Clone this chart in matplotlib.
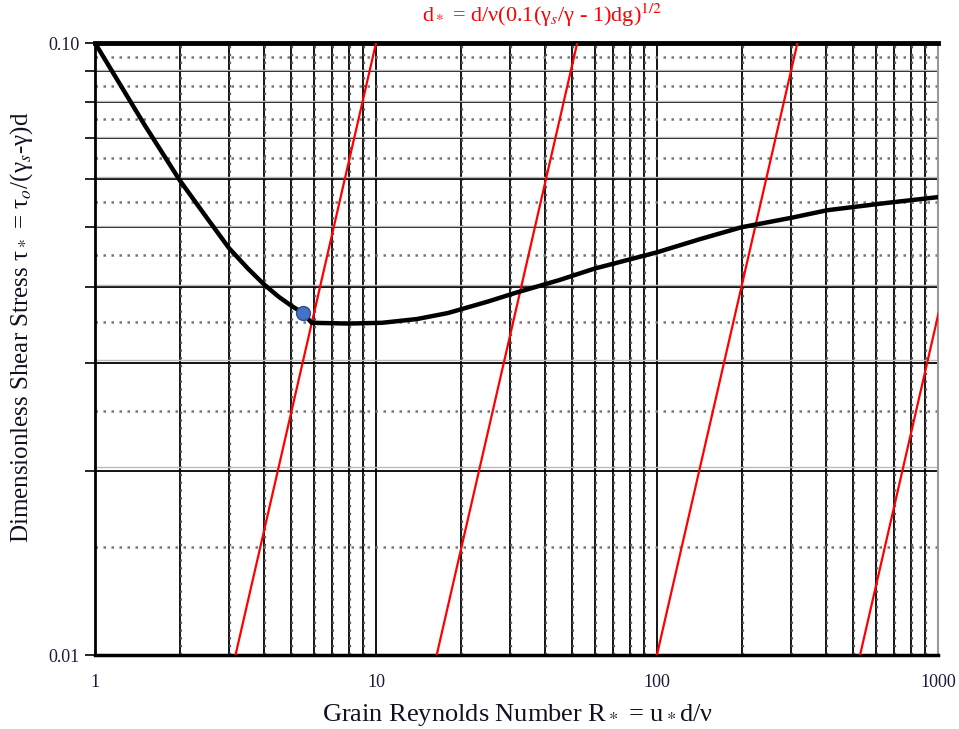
import numpy as np
import matplotlib.pyplot as plt
from matplotlib.ticker import NullFormatter

plt.rcParams['font.family'] = ['Liberation Serif', 'DejaVu Serif']
plt.rcParams['mathtext.fontset'] = 'stix'

# Shields curve
r_star = [1, 1.5, 2, 2.5, 3, 3.5, 4, 4.5, 5, 5.5, 5.9, 8, 10.5, 14, 18, 25, 31, 45, 60, 100, 142, 200, 300, 403, 659, 1000]
tau_star = [0.1, 0.0735, 0.0597, 0.0518, 0.0462, 0.0428, 0.0403, 0.0385, 0.0372, 0.0362, 0.0349, 0.0348, 0.0349,
            0.0354, 0.0362, 0.0378, 0.039, 0.041, 0.0428, 0.0455, 0.0478, 0.050, 0.0518, 0.0533, 0.0548, 0.056]

# d* constant lines (slope 2 in log-log)
d_star = [10, 52, 316, 1670]
tau_lines = [0.01, 0.1]

# highlighted point
pt_r = [5.5]
pt_tau = [0.0362]

x_major = [1, 10, 100, 1000]
x_labels = ['1', '10', '100', '1000']
y_major = [0.01, 0.1]
y_labels = ['0.01', '0.10']

fig = plt.figure(figsize=(9.59, 7.29), dpi=100)
ax = fig.add_axes([0.0991, 0.1015, 0.8790, 0.8395])
ax.set_xscale('log')
ax.set_yscale('log')
ax.set_xlim(1, 1000)
ax.set_ylim(0.01, 0.1)

# grid lines
for dec in [1, 10, 100]:
    for k in range(2, 10):
        ax.axvline(dec * k, color='black', lw=1.3, zorder=1)
        ax.axvline(dec * k * 1.008, color='#555555', lw=1.6, ls=(0, (1, 2.5)), zorder=1)
for dec in [10, 100]:
    ax.axvline(dec, color='black', lw=1.3, zorder=1)
for k in range(2, 10):
    ax.axhline(k / 100, color='black', lw=1.3, zorder=1)
    ax.axhline(k / 100 + 0.0003, color='#bbbbbb', lw=1.0, zorder=1)
for k in range(1, 10):
    ax.axhline((k + 0.5) / 100, color='#777777', lw=1.8, ls=(0, (1, 2.2)), zorder=1)

# red lines
for d in d_star:
    r = [d * np.sqrt(t / 0.1) for t in tau_lines]
    ax.plot(r, tau_lines, color='red', lw=1.6, zorder=3)

ax.plot(r_star, tau_star, color='black', lw=3.2, solid_joinstyle='round', solid_capstyle='round', zorder=4)
ax.plot(pt_r, pt_tau, 'o', ms=10, color='#4472C4', mec='#2F528F', mew=1, zorder=5)

ax.set_xticks(x_major)
ax.set_xticklabels(x_labels)
ax.set_yticks(y_major)
ax.set_yticklabels(y_labels)
ax.set_yticks([k / 100 for k in range(2, 10)], minor=True)
ax.yaxis.set_minor_formatter(NullFormatter())
ax.set_xticks([], minor=True)
ax.tick_params(axis='x', which='both', length=0, pad=14, labelsize=13, labelcolor='#1a1a3a')
ax.tick_params(axis='y', which='major', length=7, width=1.2, pad=4, labelsize=13, labelcolor='#1a1a3a')
ax.tick_params(axis='y', which='minor', length=7, width=1.2)

ax.spines['top'].set_linewidth(3.5)
ax.spines['bottom'].set_linewidth(2.5)
ax.spines['left'].set_linewidth(2)
ax.spines['right'].set_color('#999999')
ax.spines['right'].set_linewidth(1.5)

fig.text(517 / 959, 1 - 715 / 729, r'Grain Reynolds Number R$_*$ = u$_*$d/ν', fontsize=19,
         ha='center', va='center', color='#111122')
fig.text(22 / 959, 1 - 327 / 729, r'Dimensionless Shear Stress τ$_*$ = τ$_o$/(γ$_s$-γ)d', fontsize=18,
         ha='center', va='center', rotation=90, color='#111122')
fig.text(542 / 959, 1 - 15 / 729, r'd$_*$ = d/ν(0.1(γ$_s$/γ - 1)dg)$^{1/2}$', color='red', fontsize=16,
         ha='center', va='center')

fig.savefig('out.png', dpi=100)
